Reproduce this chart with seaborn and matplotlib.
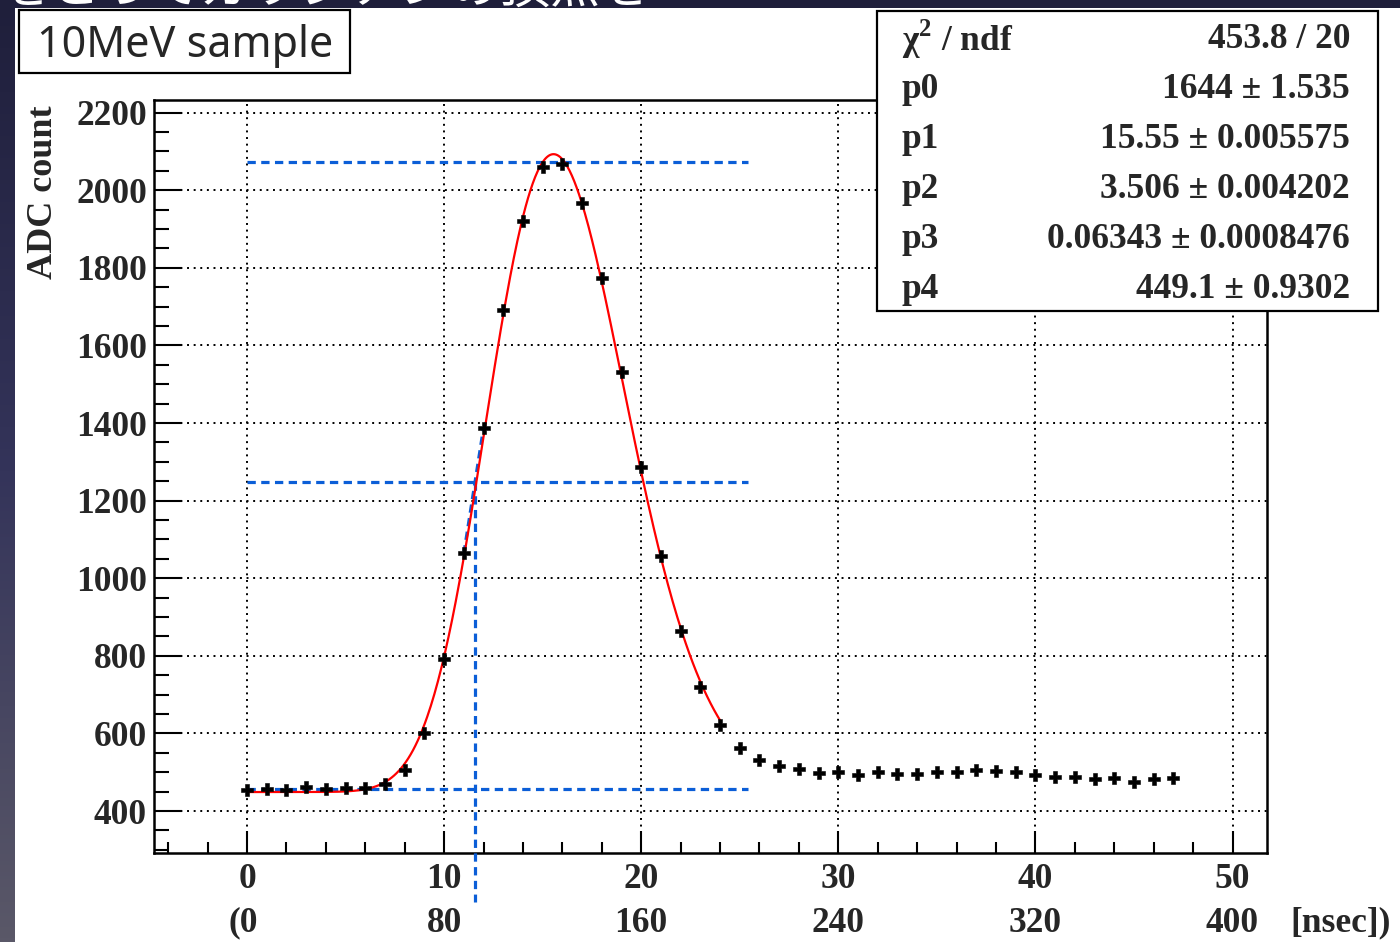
import numpy as np
import matplotlib
matplotlib.use("Agg")
import matplotlib.pyplot as plt
import matplotlib.transforms as mtransforms
from matplotlib.patches import Rectangle
import seaborn as sns

# ---- data -------------------------------------------------------------
time_bin = np.arange(48)
adc_count = [454, 458, 454, 462, 458, 460, 460, 469, 507, 602,
             792, 1064, 1388, 1692, 1921, 2059, 2069, 1967, 1774, 1532,
             1288, 1058, 865, 719, 623, 562, 532, 517, 508, 499,
             500, 493, 501, 495, 496, 502, 502, 506, 504, 501,
             492, 489, 488, 484, 486, 476, 484, 486]

# fit parameters (asymmetric gaussian + pedestal) and their errors
fit_names = ["p0", "p1", "p2", "p3", "p4"]
fit_values = [1644, 15.55, 3.506, 0.06343, 449.1]
fit_errors = [1.535, 0.005575, 0.004202, 0.0008476, 0.9302]
fit_value_text = ["1644", "15.55", "3.506", "0.06343", "449.1"]
fit_error_text = ["1.535", "0.005575", "0.004202", "0.0008476", "0.9302"]
chi2_text = "453.8 / 20"
fit_range = (0, 24)

# reference levels: peak, half height, pedestal
level_peak, level_half, level_base = 2073, 1248, 458
level_xmax = 25.4

x_ticks = [0, 10, 20, 30, 40, 50]
ns_labels = ["(0", "80", "160", "240", "320", "400"]
y_ticks = [400, 600, 800, 1000, 1200, 1400, 1600, 1800, 2000, 2200]

# ---- figure -----------------------------------------------------------
W, H = 1400, 942
sns.set_theme(style="white")
plt.rcParams["font.family"] = ["Liberation Serif", "DejaVu Serif"]
plt.rcParams["font.weight"] = "bold"
plt.rcParams["mathtext.fontset"] = "custom"
plt.rcParams["mathtext.rm"] = "Liberation Serif"
plt.rcParams["mathtext.bf"] = "Liberation Serif:bold"

fig = plt.figure(figsize=(W / 100, H / 100), dpi=100)


def fx(px):
    return px / W


def fy(py):
    return 1 - py / H


# slide background
bg = fig.add_axes([0, 0, 1, 1], zorder=-10)
grad = np.linspace(0, 1, 256)[:, None]
cmap = matplotlib.colors.LinearSegmentedColormap.from_list(
    "slide", ["#1f1f3b", "#34345a", "#5a5868"])
bg.imshow(grad, aspect="auto", cmap=cmap, extent=[0, 1, 0, 1], origin="upper")
bg.text(fx(0), fy(4), "をとってガウシアンの頂点を", transform=bg.transAxes,
        color="white", fontsize=36, family=["Noto Sans CJK JP", "DejaVu Sans"],
        fontweight="normal", va="baseline", ha="left", zorder=1)
bg.add_patch(Rectangle((fx(15), 0), 1 - fx(15), fy(8), transform=bg.transAxes,
                       facecolor="white", edgecolor="none", zorder=2))
bg.set_xlim(0, 1)
bg.set_ylim(0, 1)
bg.axis("off")

# main axes
ax = fig.add_axes([fx(154), fy(853), fx(1267) - fx(154), fy(99.5) - fy(853)])
ax.set_facecolor("white")
ax.set_xlim(-4.72, 51.75)
ax.set_ylim(292, 2234)

# grid
ax.set_xticks(x_ticks)
ax.set_yticks(y_ticks)
ax.set_xticks(np.arange(-4, 52, 2), minor=True)
ax.set_yticks(np.arange(300, 2234, 50), minor=True)
ax.grid(True, which="major", color="black", linestyle=(0, (1, 2.4)), linewidth=1.4)
ax.set_axisbelow(True)

for s in ax.spines.values():
    s.set_color("black")
    s.set_linewidth(1.8)

ax.tick_params(axis="x", which="major", direction="in", length=16, width=1.5,
               labelsize=25.5, pad=7, top=False, bottom=True, color="black")
ax.tick_params(axis="x", which="minor", direction="in", length=8, width=1.5,
               top=False, bottom=True, color="black")
ax.tick_params(axis="y", which="major", direction="in", length=20, width=1.5,
               labelsize=25.5, pad=5, left=True, right=False, color="black")
ax.tick_params(axis="y", which="minor", direction="in", length=11, width=1.5,
               left=True, right=False, color="black")
ax.set_xticklabels([str(v) for v in x_ticks], fontweight="bold")
ax.set_yticklabels([str(v) for v in y_ticks], fontweight="bold")
ax.set_xlabel("")
ax.set_ylabel("")

# fitted curve
p0, p1, p2, p3, p4 = fit_values
xf = np.linspace(fit_range[0], fit_range[1], 400)
yf = p0 * np.exp(-0.5 * ((xf - p1) / (p2 + p3 * (xf - p1))) ** 2) + p4
sns.lineplot(x=xf, y=yf, ax=ax, color="#ff0000", linewidth=1.6, zorder=4)

# reference lines
blue = "#0b5ed7"
dash = (0, (2.6, 1.7))
for lev in (level_peak, level_half, level_base):
    ax.plot([0, level_xmax], [lev, lev], color=blue, lw=2.3, linestyle=dash, zorder=3)
i_lo = int(np.searchsorted(adc_count[:17], level_half)) - 1
x_cross = time_bin[i_lo] + (level_half - adc_count[i_lo]) / (adc_count[i_lo + 1] - adc_count[i_lo])
ax.plot([time_bin[i_lo], time_bin[i_lo + 1]], [adc_count[i_lo], adc_count[i_lo + 1]],
        color=blue, lw=2.3, linestyle=dash, zorder=3)
ax.plot([x_cross, x_cross], [level_half, 165], color=blue, lw=2.3,
        linestyle=dash, zorder=3, clip_on=False)

# data points
sns.scatterplot(x=time_bin, y=adc_count, ax=ax, marker="P", s=64, color="black",
                edgecolor="black", linewidth=0.4, zorder=5, legend=False)

# second row of x labels (nanoseconds)
tr = mtransforms.blended_transform_factory(ax.transData, fig.transFigure)
for xv, lab in zip(x_ticks, ns_labels):
    if lab.startswith("("):
        ax.text(xv + 0.55, fy(923), lab, transform=tr, ha="right", va="center",
                fontsize=25.5, fontweight="bold", clip_on=False)
    else:
        ax.text(xv, fy(923), lab, transform=tr, ha="center", va="center",
                fontsize=25.5, fontweight="bold", clip_on=False)
ax.text(fx(1290), fy(923), "[nsec])", transform=fig.transFigure, ha="left",
        va="center", fontsize=25.5, fontweight="bold")

# y axis title
fig.text(fx(43), fy(192), "ADC count", rotation=90, ha="center", va="center",
         fontsize=26, fontweight="bold")

# sample label box
fig.patches.append(Rectangle((fx(19), fy(73)), fx(350) - fx(19), fy(10) - fy(73),
                             transform=fig.transFigure, facecolor="white",
                             edgecolor="black", linewidth=1.6, zorder=5))
fig.text(fx(37), fy(46), "10MeV sample", ha="left", va="center", fontsize=31,
         family=["Noto Sans", "DejaVu Sans"], fontweight="normal", zorder=6)

# fit statistics box
fig.patches.append(Rectangle((fx(877), fy(311)), fx(1378) - fx(877), fy(11) - fy(311),
                             transform=fig.transFigure, facecolor="white",
                             edgecolor="black", linewidth=1.6, zorder=5))
rows_y = [39, 90, 140, 190, 240, 290]
fig.text(fx(902), fy(rows_y[0]), "\u03c7${}^{\\mathbf{2}}$ / ndf", ha="left",
         va="center", fontsize=25.5, fontweight="bold", zorder=6)
fig.text(fx(1350), fy(rows_y[0]), chi2_text, ha="right", va="center",
         fontsize=25.5, fontweight="bold", zorder=6)
for k, name in enumerate(fit_names):
    fig.text(fx(902), fy(rows_y[k + 1]), name, ha="left", va="center",
             fontsize=25.5, fontweight="bold", zorder=6)
    fig.text(fx(1350), fy(rows_y[k + 1]),
             f"{fit_value_text[k]} \u00b1 {fit_error_text[k]}",
             ha="right", va="center", fontsize=25.5, fontweight="bold", zorder=6)

fig.savefig("out.png", dpi=100)
